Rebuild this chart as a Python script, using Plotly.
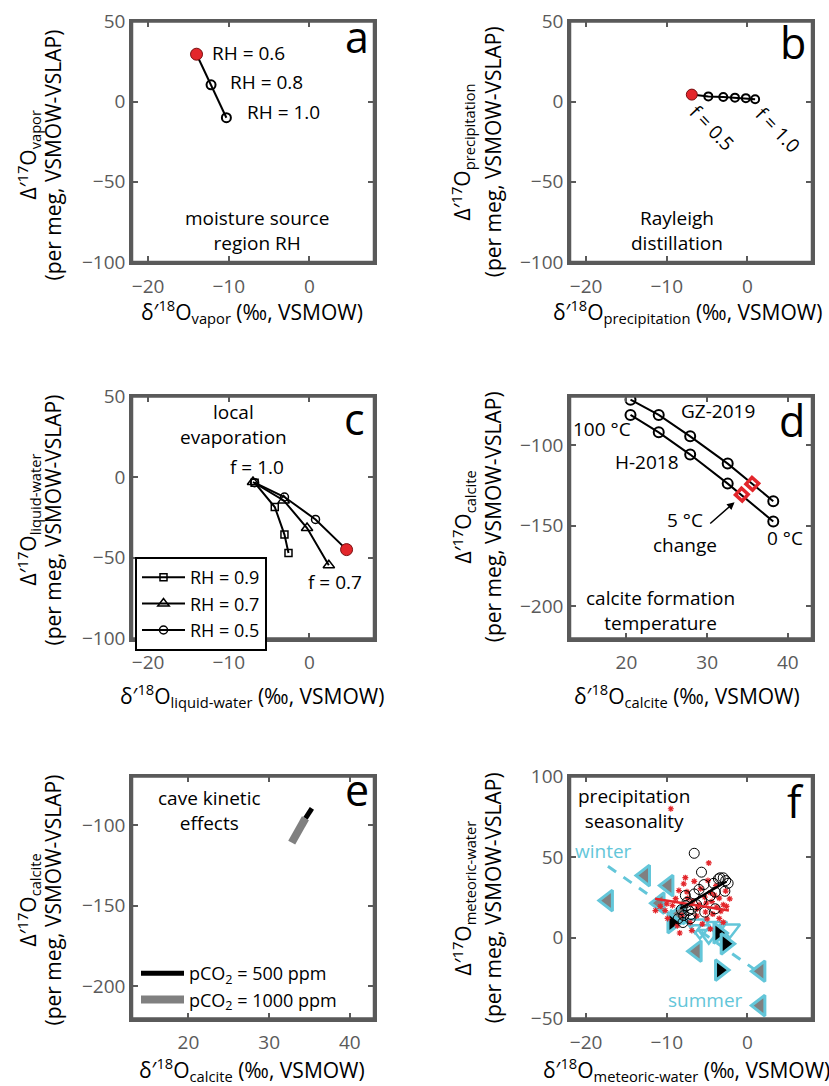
import plotly.graph_objects as go

W, H = 829, 1086
FONT = "Open Sans"
GRAY = "#5a5a5a"
RED = "#e3262b"
CYAN = "#63c6d9"

# ---------------- data ----------------
# a: moisture source RH
a_x = [-14.0, -12.2, -10.3]
a_y = [29.6, 10.5, -10.0]
# b: Rayleigh distillation (f = 0.5 ... 1.0)
b_x = [-6.9, -4.85, -3.0, -1.55, -0.2, 0.95]
b_y = [4.4, 3.3, 2.9, 2.5, 2.2, 1.5]
# c: local evaporation (f = 1.0 ... 0.7)
c_rh09_x = [-6.8, -4.3, -3.1, -2.6]
c_rh09_y = [-3.4, -18.5, -35.6, -47.0]
c_rh07_x = [-7.0, -3.2, -0.3, 2.4]
c_rh07_y = [-3.0, -14.4, -31.5, -54.6]
c_rh05_x = [-6.8, -3.1, 0.75, 4.6]
c_rh05_y = [-3.4, -12.3, -26.2, -44.9]
# d: calcite formation temperature (100, 75, 50, 25, 0 degC)
d_gz_x = [20.5, 24.0, 27.9, 32.55, 38.2]
d_gz_y = [-72.0, -81.4, -94.7, -111.6, -134.9]
d_h_x = [20.5, 24.0, 27.9, 32.55, 38.2]
d_h_y = [-81.4, -92.2, -106.0, -124.0, -147.5]
d_chg_x = [35.6, 34.3]
d_chg_y = [-124.1, -130.8]
# e: cave kinetic effects
e_500_x = [35.3, 34.5]
e_500_y = [-89.7, -95.9]
e_1000_x = [34.5, 32.8]
e_1000_y = [-95.9, -111.0]
# f: precipitation seasonality
f_trend_x = [-17.3, 1.6]
f_trend_y = [44.4, -22.1]
f_left_x = [-17.3, -12.7, -9.8, -6.3, 1.6, 1.6, -10.9, -8.4]
f_left_y = [23.1, 38.6, 32.4, -8.3, -20.7, -42.0, 21.5, 15.0]
f_down_x = [-6.5, -5.9, -4.8, -3.8, -2.2]
f_down_y = [8.5, 5.0, 2.0, 7.0, 5.5]
f_right_x = [-9.3, -3.6, -2.7, -3.4]
f_right_y = [9.4, 3.0, -3.7, -20.0]
f_circ_x = [-6.6, -5.7, -5.4, -4.2, -3.4, -3.0, -2.4, -2.8, -4.0, -5.7, -4.0, -5.3,
            -6.9, -7.7, -7.3, -7.9, -8.6, -7.1, -7.5, -6.3, -7.0, -8.2, -3.6, -2.7,
            -6.0, -8.0, -7.6, -4.6, -6.6]
f_circ_y = [52.4, 40.7, 33.0, 33.8, 37.2, 37.2, 33.8, 28.9, 28.3, 23.1, 18.0, 15.9,
            18.0, 26.2, 16.9, 13.8, 11.8, 11.8, 22.0, 20.5, 14.5, 17.5, 36.5, 35.5,
            30.0, 9.5, 19.8, 26.0, 27.2]
f_ast_x = [-9.5, -4.8, -7.7, -7.9, -8.5, -10.0, -10.2, -11.4, -10.8, -7.4, -6.8, -6.0,
           -5.3, -4.6, -4.1, -3.5, -2.2, -3.0, -3.8, -5.2, -6.3, -7.1, -8.7, -6.9,
           -5.0, -4.3, -3.5, -3.3, -5.8, -6.6, -4.9, -3.9, -2.7, -8.9, -9.3, -8.1,
           -5.6, -4.6, -3.0, -7.5, -6.2, -5.1, -4.4, -2.6, -9.9, -8.4]
f_ast_y = [80.0, 46.4, 37.3, 33.5, 29.3, 21.1, 16.9, 16.9, 19.5, 24.5, 22.8, 20.5,
           25.2, 28.0, 26.5, 24.6, 24.2, 20.5, 19.0, 16.0, 13.5, 9.5, 7.5, 4.5,
           11.8, 14.7, 12.0, 16.5, 30.5, 35.0, 35.5, 32.3, 29.0, 24.3, 20.0, 14.0,
           8.5, 5.5, 9.6, 28.5, 18.0, 21.5, 22.5, 19.5, 12.0, 3.0]
f_fit_red_x = [-11.45, -2.3]
f_fit_red_y = [24.2, 16.9]
f_fit_blk_x = [-8.35, -2.6]
f_fit_blk_y = [18.0, 34.9]

# axis ranges and tick values
rx_iso = [-22, 8]
ry_cap = [-100, 50]
rx_calc = [13, 43]
ry_calc = [-220, -70]
ry_f = [-50, 100]
tv_m100_50 = [-100, -50, 0, 50]
tv_calc_y = [-200, -150, -100]
tv_x_m20 = [-20, -10, 0]
tv_x_calc = [20, 30, 40]
tv_f_y = [-50, 0, 50, 100]

# ---------------- layout helpers ----------------
def px2x(px):
    return px / W

def py2y(py):
    return 1 - py / H

COL = [(132, 374), (570, 812)]
ROW = [(21.5, 262), (396.5, 638.5), (776.5, 1018.5)]


def axis(dom_px, rng, tickvals, anchor, vertical=False):
    if vertical:
        dom = [py2y(dom_px[1]), py2y(dom_px[0])]
    else:
        dom = [px2x(dom_px[0]), px2x(dom_px[1])]
    d = dict(domain=dom, range=rng, tickvals=tickvals, ticks="inside", ticklen=6,
             tickwidth=1.5, tickcolor=GRAY, showline=True, linecolor=GRAY, linewidth=2.5,
             mirror="allticks", showgrid=False, zeroline=False, anchor=anchor,
             automargin=False,
             tickfont=dict(family=FONT, size=19, color=GRAY))
    if not vertical:
        d["ticklabelstandoff"] = 5
    return d


fig = go.Figure()

# ---- a ----
fig.add_trace(go.Scatter(x=a_x, y=a_y, mode="lines+markers", xaxis="x", yaxis="y",
                         line=dict(color="black", width=2),
                         marker=dict(symbol="circle-open", size=9, color="black", line=dict(width=2)),
                         showlegend=False))
fig.add_trace(go.Scatter(x=a_x[:1], y=a_y[:1], mode="markers", xaxis="x", yaxis="y",
                         marker=dict(symbol="circle", size=12, color=RED, line=dict(width=1, color="#7a0f10")),
                         showlegend=False))
# ---- b ----
fig.add_trace(go.Scatter(x=b_x, y=b_y, mode="lines+markers", xaxis="x2", yaxis="y2",
                         line=dict(color="black", width=2),
                         marker=dict(symbol="circle-open", size=8, color="black", line=dict(width=2)),
                         showlegend=False))
fig.add_trace(go.Scatter(x=b_x[:1], y=b_y[:1], mode="markers", xaxis="x2", yaxis="y2",
                         marker=dict(symbol="circle", size=11, color=RED, line=dict(width=1, color="#7a0f10")),
                         showlegend=False))
# ---- c ----
fig.add_trace(go.Scatter(x=c_rh09_x, y=c_rh09_y, mode="lines+markers", xaxis="x3", yaxis="y3",
                         name="RH = 0.9", legend="legend",
                         line=dict(color="black", width=2),
                         marker=dict(symbol="square-open", size=7, color="black", line=dict(width=1.5))))
fig.add_trace(go.Scatter(x=c_rh07_x, y=c_rh07_y, mode="lines+markers", xaxis="x3", yaxis="y3",
                         name="RH = 0.7", legend="legend",
                         line=dict(color="black", width=2),
                         marker=dict(symbol="triangle-up-open", size=10, color="black", line=dict(width=1.5))))
fig.add_trace(go.Scatter(x=c_rh05_x, y=c_rh05_y, mode="lines+markers", xaxis="x3", yaxis="y3",
                         name="RH = 0.5", legend="legend",
                         line=dict(color="black", width=2),
                         marker=dict(symbol="circle-open", size=8, color="black", line=dict(width=1.5))))
fig.add_trace(go.Scatter(x=c_rh05_x[-1:], y=c_rh05_y[-1:], mode="markers", xaxis="x3", yaxis="y3",
                         marker=dict(symbol="circle", size=12, color=RED, line=dict(width=1, color="#7a0f10")),
                         showlegend=False))
# ---- d ----
for xs, ys in [(d_gz_x, d_gz_y), (d_h_x, d_h_y)]:
    fig.add_trace(go.Scatter(x=xs, y=ys, mode="lines+markers", xaxis="x4", yaxis="y4",
                             line=dict(color="black", width=2),
                             marker=dict(symbol="circle-open", size=10, color="black", line=dict(width=2)),
                             showlegend=False))
fig.add_trace(go.Scatter(x=d_chg_x, y=d_chg_y, mode="markers", xaxis="x4", yaxis="y4",
                         marker=dict(symbol="square-open", size=9, angle=42, color=RED,
                                     line=dict(width=3.5, color=RED)),
                         showlegend=False))
# ---- e ----
fig.add_trace(go.Scatter(x=e_500_x, y=e_500_y, mode="lines", xaxis="x5", yaxis="y5",
                         name="pCO<sub>2</sub> = 500 ppm", legend="legend2",
                         line=dict(color="black", width=5)))
fig.add_trace(go.Scatter(x=e_1000_x, y=e_1000_y, mode="lines", xaxis="x5", yaxis="y5",
                         name="pCO<sub>2</sub> = 1000 ppm", legend="legend2",
                         line=dict(color="#808080", width=8)))
# ---- f ----
fig.add_trace(go.Scatter(x=f_trend_x, y=f_trend_y, mode="lines", xaxis="x6", yaxis="y6",
                         line=dict(color=CYAN, width=3, dash="10px,9px"), showlegend=False))
fig.add_trace(go.Scatter(x=f_left_x, y=f_left_y, mode="markers", xaxis="x6", yaxis="y6",
                         marker=dict(symbol="triangle-left", size=18, color="#808080",
                                     line=dict(width=3, color=CYAN)), showlegend=False))
fig.add_trace(go.Scatter(x=f_down_x, y=f_down_y, mode="markers", xaxis="x6", yaxis="y6",
                         marker=dict(symbol="triangle-down-open", size=18, color=CYAN,
                                     line=dict(width=2.5, color=CYAN)), showlegend=False))
fig.add_trace(go.Scatter(x=f_right_x, y=f_right_y, mode="markers", xaxis="x6", yaxis="y6",
                         marker=dict(symbol="triangle-right", size=18, color="black",
                                     line=dict(width=3, color=CYAN)), showlegend=False))
fig.add_trace(go.Scatter(x=f_ast_x, y=f_ast_y, mode="markers", xaxis="x6", yaxis="y6",
                         marker=dict(symbol="asterisk-open", size=5, color=RED,
                                     line=dict(width=1.2, color=RED)), showlegend=False))
fig.add_trace(go.Scatter(x=f_circ_x, y=f_circ_y, mode="markers", xaxis="x6", yaxis="y6",
                         marker=dict(symbol="circle-open", size=10, color="black",
                                     line=dict(width=1, color="black")), showlegend=False))
fig.add_trace(go.Scatter(x=f_fit_red_x, y=f_fit_red_y, mode="lines", xaxis="x6", yaxis="y6",
                         line=dict(color=RED, width=2.5), showlegend=False))
fig.add_trace(go.Scatter(x=f_fit_blk_x, y=f_fit_blk_y, mode="lines", xaxis="x6", yaxis="y6",
                         line=dict(color="black", width=2.5), showlegend=False))

# ---------------- annotations ----------------
anns = []


def ann(text, px, py, size=19, color="black", xanchor="center", yanchor="middle", angle=0):
    anns.append(dict(text=text, x=px2x(px), y=py2y(py), xref="paper", yref="paper",
                     xanchor=xanchor, yanchor=yanchor, textangle=angle, showarrow=False,
                     font=dict(family=FONT, size=size, color=color)))


TS = 21  # axis-title size
ylab = {
    "a": ("vapor", 27.5, 52.5, 155),
    "b": ("precipitation", 462.5, 493.3, 152),
    "c": ("liquid-water", 27.5, 52.5, 520),
    "d": ("calcite", 462.5, 493.3, 517),
    "e": ("calcite", 27.5, 52.5, 900),
    "f": ("meteoric-water", 462.5, 493.3, 898),
}
for key, (sub, x1, x2, yc) in ylab.items():
    ann("Δ′<sup>17</sup>O<sub>%s</sub>" % sub, x1, yc, size=TS, angle=-90)
    ann("(per meg, VSMOW-VSLAP)", x2, yc, size=TS, angle=-90)

xlab = {
    "a": ("vapor", 252, 311),
    "b": ("precipitation", 687, 311),
    "c": ("liquid-water", 252, 695),
    "d": ("calcite", 687, 695),
    "e": ("calcite", 252, 1069),
    "f": ("meteoric-water", 686, 1069),
}
for key, (sub, xc, yc) in xlab.items():
    ann("δ′<sup>18</sup>O<sub>%s</sub> (‰, VSMOW)" % sub, xc, yc, size=TS)

# panel letters
for t, px, py in [("a", 357, 37), ("b", 793, 43), ("c", 354, 418), ("d", 792, 420),
                  ("e", 357, 789), ("f", 795, 801)]:
    ann(t, px, py, size=43)

# panel a
ann("RH = 0.6", 210, 53, xanchor="left")
ann("RH = 0.8", 228, 82, xanchor="left")
ann("RH = 1.0", 245, 112, xanchor="left")
ann("moisture source<br>region RH", 257, 230)
# panel b
ann("f = 0.5", 712, 128, angle=46)
ann("f = 1.0", 778, 130, angle=46)
ann("Rayleigh<br>distillation", 677, 230)
# panel c
ann("local<br>evaporation", 233, 425)
ann("f = 1.0", 257, 467)
ann("f = 0.7", 335, 582)
# panel d
ann("GZ-2019", 718, 411)
ann("100 °C", 602, 429)
ann("H-2018", 647, 462)
ann("5 °C<br>change", 685, 532)
ann("0 °C", 785, 538)
ann("calcite formation<br>temperature", 660, 610)
anns.append(dict(x=33.4, y=-135.5, ax=30.2, ay=-149.5, xref="x4", yref="y4", axref="x4", ayref="y4",
                 showarrow=True, arrowhead=2, arrowsize=1, arrowwidth=1.5, arrowcolor="black", text=""))
# panel e
ann("cave kinetic<br>effects", 209, 810)
# panel f
ann("precipitation<br>seasonality", 576, 808, xanchor="left")
ann("winter", 603, 851, color=CYAN)
ann("summer", 705, 1000, color=CYAN)

# box frame round each axes
shapes = []
for i in ["", "2", "3", "4", "5", "6"]:
    shapes.append(dict(type="rect", xref="x%s domain" % i, yref="y%s domain" % i,
                       x0=0, x1=1, y0=0, y1=1, line=dict(color=GRAY, width=2.5),
                       fillcolor="rgba(0,0,0,0)", layer="above"))

fig.update_layout(
    template="none",
    width=W, height=H,
    margin=dict(l=0, r=0, t=0, b=0, pad=0, autoexpand=False),
    paper_bgcolor="white", plot_bgcolor="white",
    font=dict(family=FONT, size=19, color="black"),
    xaxis=axis(COL[0], rx_iso, tv_x_m20, "y"),
    yaxis=axis(ROW[0], ry_cap, tv_m100_50, "x", vertical=True),
    xaxis2=axis(COL[1], rx_iso, tv_x_m20, "y2"),
    yaxis2=axis(ROW[0], ry_cap, tv_m100_50, "x2", vertical=True),
    xaxis3=axis(COL[0], rx_iso, tv_x_m20, "y3"),
    yaxis3=axis(ROW[1], ry_cap, tv_m100_50, "x3", vertical=True),
    xaxis4=axis(COL[1], rx_calc, tv_x_calc, "y4"),
    yaxis4=axis(ROW[1], ry_calc, tv_calc_y, "x4", vertical=True),
    xaxis5=axis(COL[0], rx_calc, tv_x_calc, "y5"),
    yaxis5=axis(ROW[2], ry_calc, tv_calc_y, "x5", vertical=True),
    xaxis6=axis(COL[1], rx_iso, tv_x_m20, "y6"),
    yaxis6=axis(ROW[2], ry_f, tv_f_y, "x6", vertical=True),
    legend=dict(x=px2x(135), y=py2y(557), xanchor="left", yanchor="top",
                bordercolor="black", borderwidth=2, bgcolor="white", itemwidth=43,
                font=dict(family=FONT, size=18, color="black"), tracegroupgap=0),
    legend2=dict(x=px2x(136), y=py2y(955), xanchor="left", yanchor="top",
                 borderwidth=0, bgcolor="rgba(0,0,0,0)", itemwidth=43,
                 font=dict(family=FONT, size=18, color="black"), tracegroupgap=0),
    shapes=shapes,
    annotations=anns,
)

fig.write_html("out.html")
